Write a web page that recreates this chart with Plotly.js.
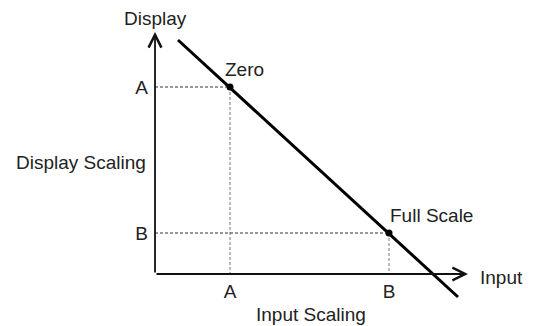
<!DOCTYPE html>
<html>
<head>
<meta charset="utf-8">
<script src="https://cdn.plot.ly/plotly-3.0.1.min.js"></script>
<style>
  html, body { margin: 0; padding: 0; background: #fff; }
  #chart { width: 533px; height: 326px; }
</style>
</head>
<body>
<div id="chart"></div>
<script>
// Scaling diagram: display value falls linearly as input grows
const lineX = [23, 303];
const lineY = [234, -23];

const pointX = [75, 234];
const pointY = [187, 41];
const pointLabels = ['Zero', 'Full Scale'];

const xTickVals = [75, 234];
const xTickText = ['A', 'B'];
const yTickVals = [187, 41];
const yTickText = ['A', 'B'];

const axisEndX = 313;
const axisEndY = 242;

const font = { family: '"Liberation Sans", Arial, sans-serif', size: 19, color: '#222' };

// dashed guide lines: horizontal ones darker, vertical ones lighter
const guides = [];
pointX.forEach((px, i) => {
    guides.push({
        x: [0, px],
        y: [pointY[i], pointY[i]],
        mode: 'lines',
        line: { color: '#333', width: 1, dash: '3px,2px' },
        hoverinfo: 'skip'
    });
    guides.push({
        x: [px, px],
        y: [pointY[i], 0],
        mode: 'lines',
        line: { color: '#777', width: 1, dash: '3px,2px' },
        hoverinfo: 'skip'
    });
});

const traceLine = {
    x: lineX,
    y: lineY,
    mode: 'lines',
    line: { color: '#000', width: 3 },
    hoverinfo: 'skip'
};

const tracePoints = {
    x: pointX,
    y: pointY,
    mode: 'markers',
    marker: { color: '#000', size: 7 },
    hoverinfo: 'skip'
};

const annotations = [
    // axis arrows
    { x: axisEndX, y: 0, ax: 0, ay: 0, axref: 'x', ayref: 'y', xref: 'x', yref: 'y',
      text: '', showarrow: true, arrowhead: 5, arrowsize: 1.4, arrowwidth: 1.8, arrowcolor: '#111' },
    { x: 0, y: axisEndY, ax: 0, ay: 0, axref: 'x', ayref: 'y', xref: 'x', yref: 'y',
      text: '', showarrow: true, arrowhead: 5, arrowsize: 1.4, arrowwidth: 1.8, arrowcolor: '#111' },
    // axis names (paper coords, they sit outside the plot range)
    { x: 0, y: 1.021, xref: 'paper', yref: 'paper', text: 'Display', showarrow: false,
      xanchor: 'center', yanchor: 'middle', font: font },
    { x: 1.009, y: 0.096, xref: 'paper', yref: 'paper', text: 'Input', showarrow: false,
      xanchor: 'left', yanchor: 'middle', font: font },
    { x: -0.022, y: 0.507, xref: 'paper', yref: 'paper', text: 'Display Scaling', showarrow: false,
      xanchor: 'right', yanchor: 'middle', font: font },
    { x: 0.4875, y: -0.036, xref: 'paper', yref: 'paper', text: 'Input Scaling', showarrow: false,
      xanchor: 'center', yanchor: 'middle', font: font }
];

// point labels
pointLabels.forEach((label, i) => {
    annotations.push({
        x: pointX[i], y: pointY[i], xref: 'x', yref: 'y', text: label, showarrow: false,
        xanchor: 'left', yanchor: 'bottom', xshift: i === 0 ? -7 : -1, yshift: 5, font: font
    });
});

const layout = {
    width: 533,
    height: 326,
    margin: { l: 155, r: 58, t: 24, b: 22 },
    paper_bgcolor: '#fff',
    plot_bgcolor: '#fff',
    showlegend: false,
    font: font,
    xaxis: {
        range: [0, 320],
        anchor: 'free',
        position: 30 / 280,
        showgrid: false,
        zeroline: false,
        showline: false,
        ticks: '',
        tickvals: xTickVals,
        ticktext: xTickText,
        ticklabelstandoff: 4,
        tickfont: font,
        fixedrange: true
    },
    yaxis: {
        range: [-30, 250],
        showgrid: false,
        zeroline: false,
        showline: false,
        ticks: '',
        tickvals: yTickVals,
        ticktext: yTickText,
        ticklabelstandoff: 6,
        tickfont: font,
        fixedrange: true
    },
    annotations: annotations
};

Plotly.newPlot('chart', [...guides, traceLine, tracePoints], layout, { displayModeBar: false, staticPlot: true });
</script>
</body>
</html>
